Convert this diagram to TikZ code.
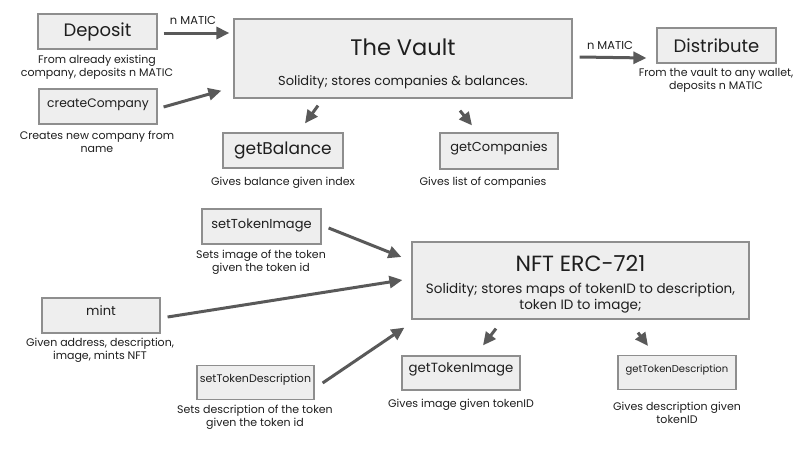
\documentclass[tikz,border=0pt]{standalone}
\usepackage{fontspec}
\setmainfont{Poppins}
\usetikzlibrary{arrows.meta,calc}
\definecolor{boxfill}{HTML}{EEEEEE}
\definecolor{boxline}{HTML}{8E8E8E}
\definecolor{arrowgray}{HTML}{595959}
\definecolor{ink}{HTML}{1E1E1E}
\newcommand{\fsz}[2]{\fontsize{#1}{#2}\selectfont}

\begin{document}
\begin{tikzpicture}[x=1pt, y=-1pt,
  box/.style={draw=boxline, fill=boxfill, line width=1.2pt, inner sep=0pt, text=ink},
  lift/.style={text depth=#1},
  note/.style={align=center, text=ink, inner sep=0pt, font=\fsz{11}{13}},
  arr/.style={draw=arrowgray, line width=3pt, -{Triangle[length=13pt,width=12pt]}}]
\useasboundingbox (0,0) rectangle (806,453);

\node[box, minimum width=119, minimum height=35, font=\fsz{18}{22}] (deposit) at (97.5,31.5) {Deposit};
\node[note] (depositNote) at (97,67) {From already existing\\company, deposits n MATIC};
\node[box, lift=7.5pt, minimum width=118, minimum height=35, font=\fsz{12.3}{15}] (createCompany) at (98,106.5) {createCompany};
\node[note] (createNote) at (97,141.5) {Creates new company from\\name};

\node[box, minimum width=338, minimum height=79] (vault) at (403,58.5) {};
\node[text=ink, font=\fsz{22.5}{27}] (vaultTitle) at (403,47) {The Vault};
\node[text=ink, font=\fsz{13}{16}] (vaultText) at (403,82) {Solidity; stores companies \& balances.};

\node[box, minimum width=120, minimum height=35, font=\fsz{17}{20}] (getBalance) at (283,150.5) {getBalance};
\node[note] (balanceNote) at (283,183) {Gives balance given index};
\node[box, lift=8.5pt, minimum width=118, minimum height=36, font=\fsz{13}{16}] (getCompanies) at (499,151) {getCompanies};
\node[note] (companiesNote) at (483,183) {Gives list of companies};

\node[box, minimum width=119, minimum height=35, font=\fsz{18}{22}] (distribute) at (716.5,45.5) {Distribute};
\node[note] (distributeNote) at (716,80.5) {From the vault to any wallet,\\deposits n MATIC};
\node[text=ink, font=\fsz{11.5}{14}] (maticIn) at (193,20) {n MATIC};
\node[text=ink, font=\fsz{11.5}{14}] (maticOut) at (610,45) {n MATIC};

\draw[arr] ($(deposit.east)+(6,1.5)$) -- ($(vault.west)+(-4,-25.5)$);
\draw[arr] ($(createCompany.east)+(6,0.5)$) -- ($(vault.south west)+(-12,-8)$);
\draw[arr] ($(vault.south)+(-85,7)$) -- ($(getBalance.north)+(22,-9)$);
\draw[arr] ($(vault.south)+(57,12)$) -- ($(getCompanies.north)+(-27,-7)$);
\draw[arr] ($(vault.east)+(7,-1.5)$) -- ($(distribute.west)+(-10,12.5)$);

\node[box, lift=5.5pt, minimum width=119, minimum height=35, font=\fsz{13}{16}] (setTokenImage) at (261.5,226.5) {setTokenImage};
\node[note] (imageNote) at (261,262) {Sets image of the token\\given the token id};
\node[box, lift=10.5pt, minimum width=118, minimum height=35, font=\fsz{13}{16}] (mint) at (101,315.5) {mint};
\node[note] (mintNote) at (100,350.5) {Given address, description,\\image, mints NFT};
\node[box, lift=9pt, minimum width=117, minimum height=34, font=\fsz{11}{13}] (setTokenDescription) at (255.5,382.5) {setTokenDescription};
\node[note] (descNote) at (255,417.5) {Sets description of the token\\given the token id};

\node[box, minimum width=337, minimum height=77] (nft) at (580.5,280.5) {};
\node[text=ink, font=\fsz{22}{26}] (nftTitle) at (580.5,263) {NFT ERC-721};
\node[text=ink, align=center, font=\fsz{13.5}{16}] (nftText) at (580.5,298) {Solidity; stores maps of tokenID to description,\\token ID to image;};

\node[box, lift=10.5pt, minimum width=118, minimum height=34, font=\fsz{13.3}{16}] (getTokenImage) at (461,373) {getTokenImage};
\node[note] (tokenImageNote) at (461,405) {Gives image given tokenID};
\node[box, lift=8pt, minimum width=118, minimum height=34, font=\fsz{10}{12}] (getTokenDescription) at (677,372.5) {getTokenDescription};
\node[note] (tokenDescNote) at (677,412.5) {Gives description given\\tokenID};

\draw[arr] ($(setTokenImage.east)+(7,1.5)$) -- ($(nft.west)+(-10,-23.5)$);
\draw[arr] ($(mint.east)+(7,1.5)$) -- ($(nft.west)+(-9,-0.5)$);
\draw[arr] ($(setTokenDescription.east)+(8,0.5)$) -- ($(nft.south west)+(-7,8)$);
\draw[arr] ($(nft.south)+(-84.5,9)$) -- ($(getTokenImage.north)+(22,-10)$);
\draw[arr] ($(nft.south)+(57.5,13)$) -- ($(getTokenDescription.north)+(-29,-9)$);
\end{tikzpicture}
\end{document}
